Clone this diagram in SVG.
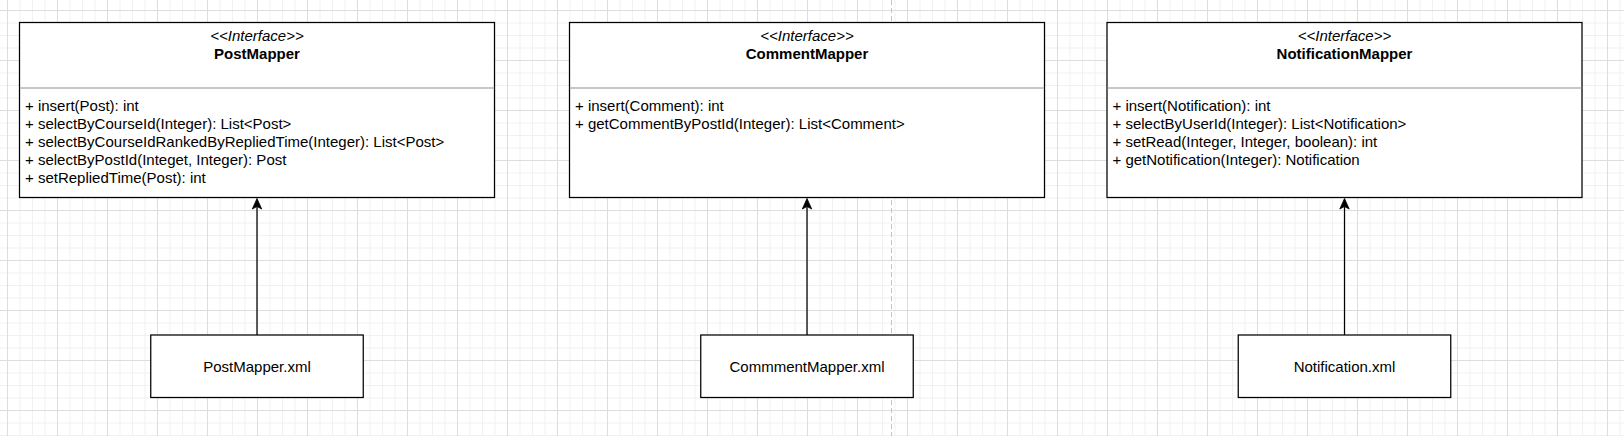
<svg xmlns="http://www.w3.org/2000/svg" width="1624" height="436" viewBox="0 0 1624 436">
  <style>
    .box { fill: #ffffff; stroke: #000000; stroke-width: 1.25; }
    .div { stroke: #8f8f8f; stroke-width: 1.1; fill: none; }
    .t { font-family: "Liberation Sans", Arial, sans-serif; font-size: 15px; fill: #000000; }
    .st { font-style: italic; text-anchor: middle; }
    .ti { font-weight: bold; text-anchor: middle; }
    .c { text-anchor: middle; }
    .edge { stroke: #000000; stroke-width: 1.25; fill: none; marker-end: url(#arr); }
  </style>
  <defs>
    <pattern id="grid" x="7" y="10" width="50" height="50" patternUnits="userSpaceOnUse">
      <path d="M13 0V50M25.5 0V50M38 0V50M0 13H50M0 25.5H50M0 38H50" stroke="#f1f1f1" stroke-width="1" fill="none"/>
      <path d="M0.5 0V50M0 0.5H50" stroke="#dddddd" stroke-width="1" fill="none"/>
    </pattern>
    <marker id="arr" viewBox="-11 -6 12 12" refX="-8" refY="0" markerWidth="12" markerHeight="12" markerUnits="userSpaceOnUse" orient="auto">
      <path d="M0,0 L-10.5,-4.7 L-8,0 L-10.5,4.7 Z" fill="#000000" stroke="#000000" stroke-width="0.8" stroke-linejoin="miter"/>
    </marker>
  </defs>
  <rect x="0" y="0" width="1624" height="436" fill="#ffffff"/>
  <rect x="0" y="0" width="1624" height="436" fill="url(#grid)"/>
  <line x1="891.5" y1="0" x2="891.5" y2="436" stroke="#c4c4c4" stroke-width="1" stroke-dasharray="5 3"/>

  <g id="connectors">
    <path class="edge" d="M257 335V206.5"/>
    <path class="edge" d="M807 335V206.5"/>
    <path class="edge" d="M1344.5 335V206.5"/>
  </g>

  <g id="PostMapper">
    <rect class="box" x="19.5" y="22.5" width="475" height="175"/>
    <line class="div" x1="19.5" y1="88" x2="494.5" y2="88"/>
    <text class="t st" x="257" y="41">&lt;&lt;Interface&gt;&gt;</text>
    <text class="t ti" x="257" y="59">PostMapper</text>
    <text class="t" x="25" y="111">+ insert(Post): int</text>
    <text class="t" x="25" y="129">+ selectByCourseId(Integer): List&lt;Post&gt;</text>
    <text class="t" x="25" y="147">+ selectByCourseIdRankedByRepliedTime(Integer): List&lt;Post&gt;</text>
    <text class="t" x="25" y="165">+ selectByPostId(Integet, Integer): Post</text>
    <text class="t" x="25" y="183">+ setRepliedTime(Post): int</text>
  </g>

  <g id="CommentMapper">
    <rect class="box" x="569.5" y="22.5" width="475" height="175"/>
    <line class="div" x1="569.5" y1="88" x2="1044.5" y2="88"/>
    <text class="t st" x="807" y="41">&lt;&lt;Interface&gt;&gt;</text>
    <text class="t ti" x="807" y="59">CommentMapper</text>
    <text class="t" x="575" y="111">+ insert(Comment): int</text>
    <text class="t" x="575" y="129">+ getCommentByPostId(Integer): List&lt;Comment&gt;</text>
  </g>

  <g id="NotificationMapper">
    <rect class="box" x="1107" y="22.5" width="475" height="175"/>
    <line class="div" x1="1107" y1="88" x2="1582" y2="88"/>
    <text class="t st" x="1344.5" y="41">&lt;&lt;Interface&gt;&gt;</text>
    <text class="t ti" x="1344.5" y="59">NotificationMapper</text>
    <text class="t" x="1112.5" y="111">+ insert(Notification): int</text>
    <text class="t" x="1112.5" y="129">+ selectByUserId(Integer): List&lt;Notification&gt;</text>
    <text class="t" x="1112.5" y="147">+ setRead(Integer, Integer, boolean): int</text>
    <text class="t" x="1112.5" y="165">+ getNotification(Integer): Notification</text>
  </g>

  <g id="PostMapperXml">
    <rect class="box" x="150.75" y="335" width="212.5" height="62.5"/>
    <text class="t c" x="257" y="371.5">PostMapper.xml</text>
  </g>

  <g id="CommmentMapperXml">
    <rect class="box" x="700.75" y="335" width="212.5" height="62.5"/>
    <text class="t c" x="807" y="371.5">CommmentMapper.xml</text>
  </g>

  <g id="NotificationXml">
    <rect class="box" x="1238.25" y="335" width="212.5" height="62.5"/>
    <text class="t c" x="1344.5" y="371.5">Notification.xml</text>
  </g>
</svg>
